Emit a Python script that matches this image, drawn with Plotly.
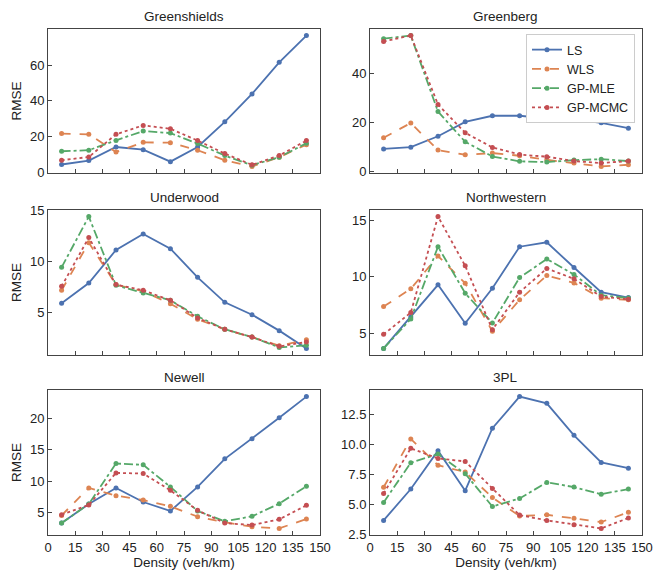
import plotly.graph_objects as go

density = [7.5, 22.5, 37.5, 52.5, 67.5, 82.5, 97.5, 112.5, 127.5, 142.5]
methods = ["LS", "WLS", "GP-MLE", "GP-MCMC"]
panels = ["Greenshields", "Greenberg", "Underwood", "Northwestern", "Newell", "3PL"]

greenshields_ls = [4.3, 6.5, 14.1, 12.6, 5.9, 14.1, 28.2, 43.8, 61.5, 76.5]
greenshields_wls = [21.6, 21.2, 11.3, 16.7, 16.5, 12.3, 6.7, 3.2, 8.4, 15.4]
greenshields_mle = [11.7, 12.3, 17.8, 23.0, 21.9, 16.0, 9.3, 3.9, 8.4, 16.2]
greenshields_mcmc = [6.7, 8.5, 21.2, 26.2, 24.3, 17.7, 10.4, 4.1, 9.3, 17.7]

greenberg_ls = [9.1, 9.8, 14.3, 20.2, 22.7, 22.7, 21.6, 21.2, 19.8, 17.6]
greenberg_wls = [13.7, 19.7, 8.6, 6.7, 7.4, 6.3, 4.6, 3.3, 1.9, 2.6]
greenberg_mle = [54.3, 55.6, 24.4, 12.0, 6.0, 4.0, 3.7, 4.5, 4.9, 4.1]
greenberg_mcmc = [53.2, 55.6, 27.3, 15.7, 9.7, 6.8, 5.9, 4.1, 3.3, 4.1]

underwood_ls = [5.92, 7.9, 11.14, 12.71, 11.27, 8.46, 6.01, 4.80, 3.24, 1.50]
underwood_wls = [7.19, 11.86, 7.75, 7.09, 5.88, 4.35, 3.37, 2.61, 1.76, 2.35]
underwood_mle = [9.44, 14.41, 7.68, 6.93, 6.21, 4.64, 3.37, 2.61, 1.60, 1.80]
underwood_mcmc = [7.58, 12.35, 7.75, 7.19, 6.21, 4.48, 3.37, 2.61, 1.70, 2.12]

northwestern_ls = [3.63, 6.43, 9.29, 5.86, 8.99, 12.68, 13.07, 10.83, 8.63, 8.15]
northwestern_wls = [7.35, 8.93, 11.85, 9.43, 5.15, 7.95, 10.12, 9.46, 8.10, 7.95]
northwestern_mle = [3.63, 6.25, 12.68, 8.54, 5.89, 9.94, 11.58, 10.21, 8.36, 8.12]
northwestern_mcmc = [4.88, 6.82, 15.36, 10.98, 5.30, 8.63, 10.74, 9.82, 8.24, 8.0]

newell_ls = [3.35, 6.38, 8.94, 6.70, 5.27, 9.10, 13.56, 16.76, 20.1, 23.46]
newell_wls = [4.57, 8.94, 7.71, 7.02, 6.01, 4.36, 3.46, 2.77, 2.50, 3.99]
newell_mle = [3.35, 6.38, 12.82, 12.61, 9.10, 5.27, 3.62, 4.42, 6.44, 9.20]
newell_mcmc = [4.68, 6.22, 11.33, 11.22, 8.56, 5.37, 3.35, 3.03, 3.94, 6.17]

tpl_ls = [3.67, 6.29, 9.49, 6.15, 11.36, 14.0, 13.44, 10.77, 8.5, 8.03]
tpl_wls = [6.43, 10.47, 8.28, 7.70, 5.58, 4.03, 4.14, 3.84, 3.53, 4.34]
tpl_mle = [5.17, 8.48, 9.2, 7.56, 4.83, 5.5, 6.84, 6.45, 5.86, 6.28]
tpl_mcmc = [5.92, 9.68, 8.84, 8.59, 6.34, 4.11, 3.67, 3.31, 3.0, 3.87]

panel_data = [
    [greenshields_ls, greenshields_wls, greenshields_mle, greenshields_mcmc],
    [greenberg_ls, greenberg_wls, greenberg_mle, greenberg_mcmc],
    [underwood_ls, underwood_wls, underwood_mle, underwood_mcmc],
    [northwestern_ls, northwestern_wls, northwestern_mle, northwestern_mcmc],
    [newell_ls, newell_wls, newell_mle, newell_mcmc],
    [tpl_ls, tpl_wls, tpl_mle, tpl_mcmc],
]
y_ticks = [
    [0, 20, 40, 60],
    [0, 20, 40],
    [5, 10, 15],
    [5, 10, 15],
    [5, 10, 15, 20],
    [2.5, 5.0, 7.5, 10.0, 12.5],
]
x_ticks = list(range(0, 151, 15))

colors = ["#4C72B0", "#DD8452", "#55A868", "#C44E52"]
dashes = ["solid", "dash", "dashdot", "dot"]

OFF = 8  # page body offset
W, H = 664 - OFF, 581 - OFF
ML, MR, MT, MB = 48 - OFF, 22, 29 - OFF, 46
PW, PH = W - ML - MR, H - MT - MB


def xd(a, b):
    return [(a - OFF - ML) / PW, (b - OFF - ML) / PW]


def yd(top, bottom):
    return [1 - (bottom - OFF - MT) / PH, 1 - (top - OFF - MT) / PH]


x_dom = [xd(48, 320), xd(370, 642)]
y_dom = [yd(29, 173), yd(210, 355), yd(390, 535)]

FONT = "Liberation Sans, Arial, sans-serif"
TXT = "#222"
fig = go.Figure()
annotations = []

for i, name in enumerate(panels):
    r, c = divmod(i, 2)
    suffix = "" if i == 0 else str(i + 1)
    for k, m in enumerate(methods):
        fig.add_trace(go.Scatter(
            x=density, y=panel_data[i][k], mode="lines+markers", name=m,
            line=dict(color=colors[k], dash=dashes[k], width=1.8),
            marker=dict(color=colors[k], size=5),
            xaxis="x" + suffix, yaxis="y" + suffix,
            showlegend=(i == 1),
        ))
    vals = [v for s in panel_data[i] for v in s]
    lo, hi = min(vals), max(vals)
    pad = 0.05 * (hi - lo)
    axis_common = dict(showline=True, mirror=True, linecolor="#444", linewidth=1,
                       ticks="inside", ticklen=4, tickcolor="#444", showgrid=False,
                       zeroline=False, automargin=False,
                       tickfont=dict(size=13, color=TXT, family=FONT))
    xa = dict(axis_common, domain=x_dom[c], range=[0, 150], tickvals=x_ticks,
              showticklabels=(r == 2), anchor="y" + suffix)
    if r == 2:
        xa["title"] = dict(text="Density (veh/km)", font=dict(size=13.5, color=TXT, family=FONT), standoff=2)
    ya = dict(axis_common, domain=y_dom[r], range=[lo - pad, hi + pad], tickvals=y_ticks[i],
              anchor="x" + suffix)
    if i == 5:
        ya["tickformat"] = ".1f"
    if c == 0:
        ya["title"] = dict(text="RMSE", font=dict(size=13.5, color=TXT, family=FONT), standoff=5)
    fig.layout["xaxis" + suffix] = xa
    fig.layout["yaxis" + suffix] = ya
    annotations.append(dict(text=name, x=(x_dom[c][0] + x_dom[c][1]) / 2, y=y_dom[r][1],
                            xref="paper", yref="paper", xanchor="center", yanchor="bottom",
                            yshift=3, showarrow=False,
                            font=dict(size=13.5, color=TXT, family=FONT)))

fig.update_layout(
    width=W, height=H, margin=dict(l=ML, r=MR, t=MT, b=MB, autoexpand=False),
    paper_bgcolor="white", plot_bgcolor="white",
    annotations=annotations,
    font=dict(family=FONT, color=TXT),
    legend=dict(x=(635 - OFF - ML) / PW, y=1 - (34 - OFF - MT) / PH, xanchor="right", yanchor="top",
                bordercolor="#ccc", borderwidth=1, bgcolor="white",
                font=dict(size=12.5, family=FONT, color=TXT)),
)

fig.write_html("out.html")
